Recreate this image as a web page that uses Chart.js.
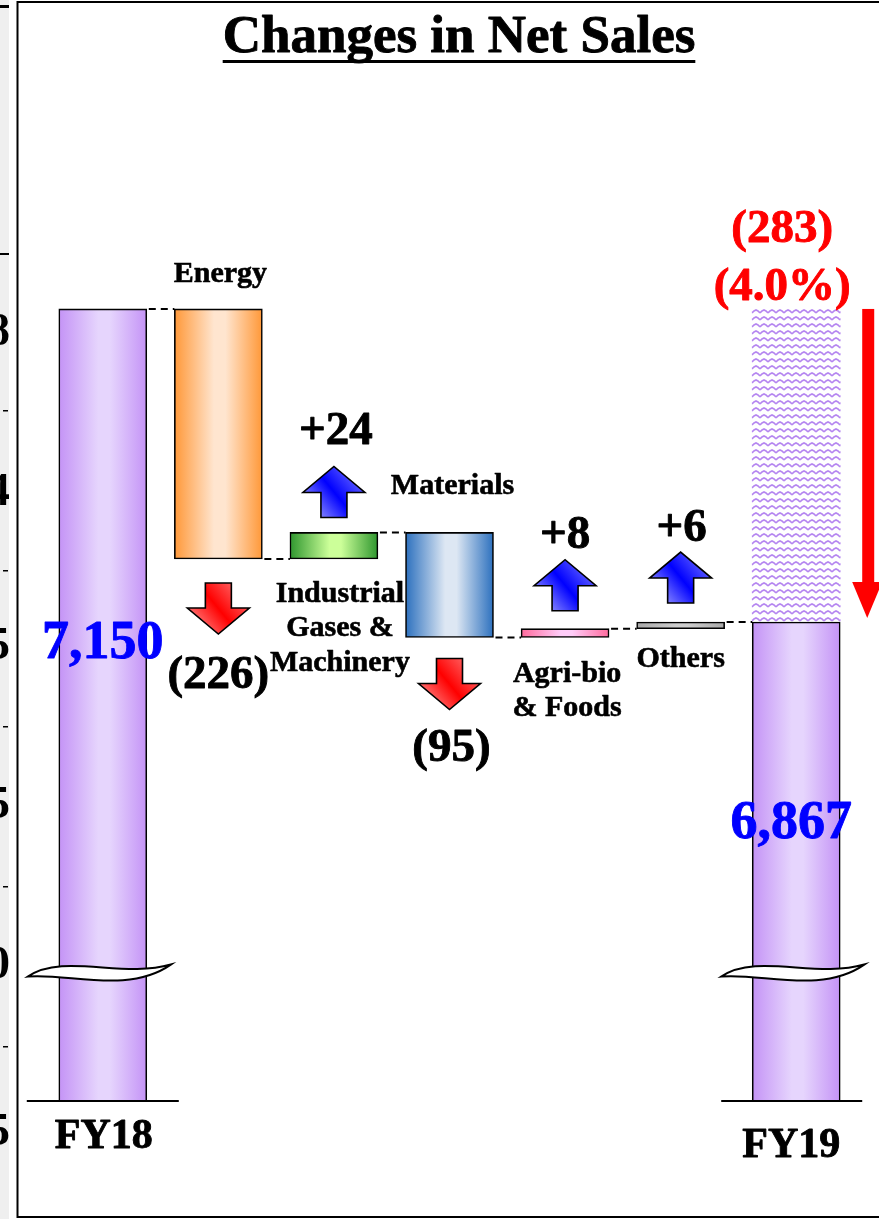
<!DOCTYPE html>
<html>
<head>
<meta charset="utf-8">
<title>Changes in Net Sales</title>
<script src="https://cdn.jsdelivr.net/npm/chart.js@4.4.1/dist/chart.umd.min.js"></script>
<style>
  html, body { margin: 0; padding: 0; background: #fff; }
  #wrap { position: relative; width: 879px; height: 1219px; }
  canvas { display: block; }
</style>
</head>
<body>
<div id="wrap"><canvas id="sales" width="879" height="1219"></canvas></div>
<script>
// ---- data ----
const categoryLines = [['FY18'], ['Energy'], ['Industrial', 'Gases &', 'Machinery'], ['Materials'], ['Agri-bio', '& Foods'], ['Others'], ['FY19']];
const openingSales = 7150;                 // FY18 net sales
const segmentChanges = [-226, 24, -95, 8, 6];
const closingSales = 6867;                 // FY19 net sales
const axisFloor = 6435;                    // value at the broken baseline
const axisCeiling = 7300;
const breakValue = 6552;                   // where the axis break symbol sits
const sideTickLabels = ['8', '4', '5', '5', '0', '5'];

// ---- derived series ----
const stepData = [openingSales];
const levelsAfter = [openingSales];
let running = openingSales;
segmentChanges.forEach(d => {
  stepData.push([running, running + d]);
  running += d;
  levelsAfter.push(running);
});
stepData.push(closingSales);
const declineData = categoryLines.map((_, i) => i === categoryLines.length - 1 ? [closingSales, openingSales] : null);

const fmtChange = d => d < 0 ? '(' + Math.abs(d) + ')' : '+' + d;
const fmtTotal = v => v.toLocaleString('en-US');
const totalChange = closingSales - openingSales;
const totalPct = Math.abs(totalChange / openingSales * 100).toFixed(1);
const totalChangeLines = [fmtChange(totalChange), '(' + totalPct + '%)'];

// ---- styling ----
const SERIF = "'Liberation Serif','Times New Roman',Times,serif";
const bold = px => 'bold ' + px + 'px ' + SERIF;
const BAR_W = 88;
const barShades = [
  { edge: '#c493f6', mid: '#e6d5fd' },
  { edge: '#ff9838', mid: '#ffe5cf' },
  { edge: '#2e962e', mid: '#ccff99' },
  { edge: '#2c70be', mid: '#dde7f3' },
  { edge: '#ff6a9c', mid: '#ffccf8' },
  { edge: '#a8a8a8', mid: '#cdcdcd' },
  { edge: '#c493f6', mid: '#e6d5fd' }
];
// offsets for arrows / labels around each change bar
const arrowGap = [24, 15, 21, 18, 19];
const valueGap = [54, 22, 51, 12, 11];
const valueDx = [0, 2, 2, 0, 1];
const nameLayout = [
  null,
  { side: 'above', dx: 2, dy: -27 },
  { side: 'below', dx: 6, dy: 43 },
  { side: 'above', dx: 3, dy: -38 },
  { side: 'below', dx: 2, dy: 44 },
  { side: 'below', dx: 0, dy: 38 },
  null
];

function barFill(ctx) {
  if (ctx.type !== 'data') return '#ccc';
  const chart = ctx.chart;
  const sc = chart.scales.x;
  const shade = barShades[ctx.dataIndex];
  const cx = sc ? sc.getPixelForValue(ctx.dataIndex) : NaN;
  if (!isFinite(cx)) return shade.edge;
  const g = chart.ctx.createLinearGradient(cx - BAR_W / 2, 0, cx + BAR_W / 2, 0);
  g.addColorStop(0, shade.edge);
  g.addColorStop(0.45, shade.mid);
  g.addColorStop(0.58, shade.mid);
  g.addColorStop(1, shade.edge);
  return g;
}

function wavyPattern() {
  const c = document.createElement('canvas');
  c.width = 8; c.height = 7;
  const g = c.getContext('2d');
  g.strokeStyle = '#b586f0';
  g.lineWidth = 1.6;
  g.beginPath();
  g.moveTo(0, 5); g.lineTo(2, 3); g.lineTo(4, 2); g.lineTo(6, 3); g.lineTo(8, 5);
  g.stroke();
  return g.createPattern(c, 'repeat');
}

function text(ctx, str, x, y, px, color, align) {
  ctx.font = bold(px);
  ctx.fillStyle = color || '#000';
  ctx.strokeStyle = color || '#000';
  ctx.lineWidth = px > 35 ? 0.9 : 0.6;
  ctx.lineJoin = 'round';
  ctx.textAlign = align || 'center';
  ctx.textBaseline = 'alphabetic';
  ctx.fillText(str, x, y);
  ctx.strokeText(str, x, y);
}

function blockArrow(ctx, cx, yStart, dir) {
  // dir = -1 points up, +1 points down; yStart is the shaft end
  const len = 51, head = 26, headW = 62, shaftW = 26;
  const tip = yStart + dir * len;
  const neck = tip - dir * head;
  ctx.save();
  const g = ctx.createLinearGradient(cx + headW / 2, Math.min(tip, yStart), cx - headW / 2, Math.max(tip, yStart));
  if (dir < 0) {
    g.addColorStop(0, '#8c8cff'); g.addColorStop(0.5, '#0000ff'); g.addColorStop(1, '#c4c4ff');
  } else {
    g.addColorStop(0, '#ff8a8a'); g.addColorStop(0.5, '#ff0000'); g.addColorStop(1, '#ffb0b0');
  }
  ctx.beginPath();
  ctx.moveTo(cx - shaftW / 2, yStart);
  ctx.lineTo(cx - shaftW / 2, neck);
  ctx.lineTo(cx - headW / 2, neck);
  ctx.lineTo(cx, tip);
  ctx.lineTo(cx + headW / 2, neck);
  ctx.lineTo(cx + shaftW / 2, neck);
  ctx.lineTo(cx + shaftW / 2, yStart);
  ctx.closePath();
  ctx.fillStyle = g;
  ctx.fill();
  ctx.lineWidth = 1.6;
  ctx.strokeStyle = '#000';
  ctx.lineJoin = 'miter';
  ctx.stroke();
  ctx.restore();
}

function axisBreak(ctx, cx, y0) {
  const L = [cx - 75, y0 + 6], R = [cx + 68, y0 - 6];
  ctx.save();
  ctx.beginPath();
  ctx.moveTo(L[0], L[1]);
  ctx.bezierCurveTo(cx - 40, y0 - 18, cx + 20, y0 + 8, R[0], R[1]);
  ctx.bezierCurveTo(cx + 25, y0 + 24, cx - 35, y0 + 2, L[0], L[1]);
  ctx.closePath();
  ctx.fillStyle = '#fff';
  ctx.fill();
  ctx.lineWidth = 2;
  ctx.strokeStyle = '#000';
  ctx.stroke();
  ctx.restore();
}

const slidePlugin = {
  id: 'slide',
  beforeDraw(chart) {
    const ctx = chart.ctx;
    ctx.save();
    ctx.fillStyle = '#fff';
    ctx.fillRect(0, 0, chart.width, chart.height);
    // neighbouring panel strip on the far left
    ctx.fillStyle = '#efefef';
    ctx.fillRect(0, 0, 9, chart.height);
    ctx.fillStyle = '#000';
    ctx.fillRect(0, 5, 9, 3);
    ctx.fillRect(0, 253, 9, 2);
    [410, 570, 726, 886, 1046].forEach(t => ctx.fillRect(3, t, 5, 1.5));
    ctx.beginPath();
    ctx.rect(0, 0, 9, chart.height);
    ctx.clip();
    [333, 493, 647, 806, 966, 1133].forEach((yy, i) => {
      ctx.font = bold(46);
      ctx.fillStyle = '#000';
      ctx.textAlign = 'right';
      ctx.textBaseline = 'middle';
      ctx.fillText(sideTickLabels[i], 10, yy);
    });
    ctx.restore();
    // panel frame
    ctx.save();
    ctx.strokeStyle = '#000';
    ctx.lineWidth = 2;
    ctx.strokeRect(17.5, 2, chart.width + 10, 1215);
    ctx.restore();
    // title
    ctx.save();
    text(ctx, 'Changes in Net Sales', 459, 52, 53, '#000');
    ctx.font = bold(53);
    const w = ctx.measureText('Changes in Net Sales').width;
    ctx.fillStyle = '#000';
    ctx.fillRect(459 - w / 2, 60, w, 3);
    ctx.restore();
  },
  afterDatasetsDraw(chart) {
    const ctx = chart.ctx;
    const ys = chart.scales.y;
    const bars = chart.getDatasetMeta(0).data;
    const floorPx = ys.getPixelForValue(axisFloor);
    const breakPx = ys.getPixelForValue(breakValue);
    const first = bars[0], last = bars[bars.length - 1];

    ctx.save();
    // baselines under the two totals
    ctx.fillStyle = '#000';
    ctx.fillRect(first.x - 76, floorPx, 152, 2);
    ctx.fillRect(last.x - 75, floorPx, 141, 2);
    // axis breaks
    axisBreak(ctx, first.x, breakPx);
    axisBreak(ctx, last.x, breakPx);

    // dashed connectors between consecutive bars
    ctx.setLineDash([7, 5]);
    ctx.lineWidth = 2;
    ctx.strokeStyle = '#000';
    for (let i = 0; i < bars.length - 1; i++) {
      const yy = ys.getPixelForValue(levelsAfter[i]);
      ctx.beginPath();
      ctx.moveTo(bars[i].x + bars[i].width / 2 + 2, yy);
      ctx.lineTo(bars[i + 1].x - bars[i + 1].width / 2, yy);
      ctx.stroke();
    }
    ctx.setLineDash([]);

    // change arrows and values
    segmentChanges.forEach((d, j) => {
      const b = bars[j + 1];
      const top = Math.min(b.y, b.base), bottom = Math.max(b.y, b.base);
      if (d > 0) {
        const start = top - arrowGap[j];
        blockArrow(ctx, b.x, start, -1);
        text(ctx, fmtChange(d), b.x + valueDx[j], start - 51 - valueGap[j], 47, '#000');
      } else {
        const start = bottom + arrowGap[j];
        blockArrow(ctx, b.x, start, 1);
        text(ctx, fmtChange(d), b.x + valueDx[j], start + 51 + valueGap[j], 47, '#000');
      }
    });

    // segment names
    nameLayout.forEach((lay, i) => {
      if (!lay) return;
      const b = bars[i];
      const top = Math.min(b.y, b.base), bottom = Math.max(b.y, b.base);
      const y0 = (lay.side === 'above' ? top : bottom) + lay.dy;
      categoryLines[i].forEach((ln, k) => text(ctx, ln, b.x + lay.dx, y0 + k * 34.5, 30, '#000'));
    });

    // totals
    const openPx = ys.getPixelForValue(openingSales);
    const closePx = ys.getPixelForValue(closingSales);
    text(ctx, fmtTotal(openingSales), first.x, openPx + 349, 54, '#0000ff');
    text(ctx, fmtTotal(closingSales), last.x - 5, closePx + 216, 54, '#0000ff');
    text(ctx, categoryLines[0][0], first.x + 1, floorPx + 48, 42, '#000');
    text(ctx, categoryLines[6][0], last.x - 5, floorPx + 57, 42, '#000');

    // overall decline
    text(ctx, totalChangeLines[0], last.x - 14, openPx - 67, 47, '#ff0000');
    text(ctx, totalChangeLines[1], last.x - 14, openPx - 9, 47, '#ff0000');
    const ax = last.x + 71;
    const tip = closePx - 4;
    ctx.fillStyle = '#ff0000';
    ctx.fillRect(ax - 5, openPx, 12, tip - 36 - openPx + 1);
    ctx.beginPath();
    ctx.moveTo(ax - 15, tip - 36);
    ctx.lineTo(ax + 15, tip - 36);
    ctx.lineTo(ax, tip);
    ctx.closePath();
    ctx.fill();
    ctx.restore();
  }
};

new Chart(document.getElementById('sales'), {
  type: 'bar',
  data: {
    labels: categoryLines,
    datasets: [
      {
        label: 'Net sales',
        data: stepData,
        backgroundColor: barFill,
        borderColor: '#000',
        borderWidth: 1.6,
        borderSkipped: false,
        barThickness: BAR_W,
        grouped: false
      },
      {
        label: 'Decline',
        data: declineData,
        backgroundColor: wavyPattern(),
        borderWidth: 0,
        barThickness: BAR_W,
        grouped: false
      }
    ]
  },
  options: {
    responsive: false,
    animation: false,
    devicePixelRatio: 1,
    layout: { padding: { left: 45, right: 25, top: 143, bottom: 119 } },
    plugins: { legend: { display: false }, tooltip: { enabled: false }, title: { display: false } },
    scales: {
      x: { display: false },
      y: { display: false, min: axisFloor, max: axisCeiling }
    }
  },
  plugins: [slidePlugin]
});
</script>
</body>
</html>
